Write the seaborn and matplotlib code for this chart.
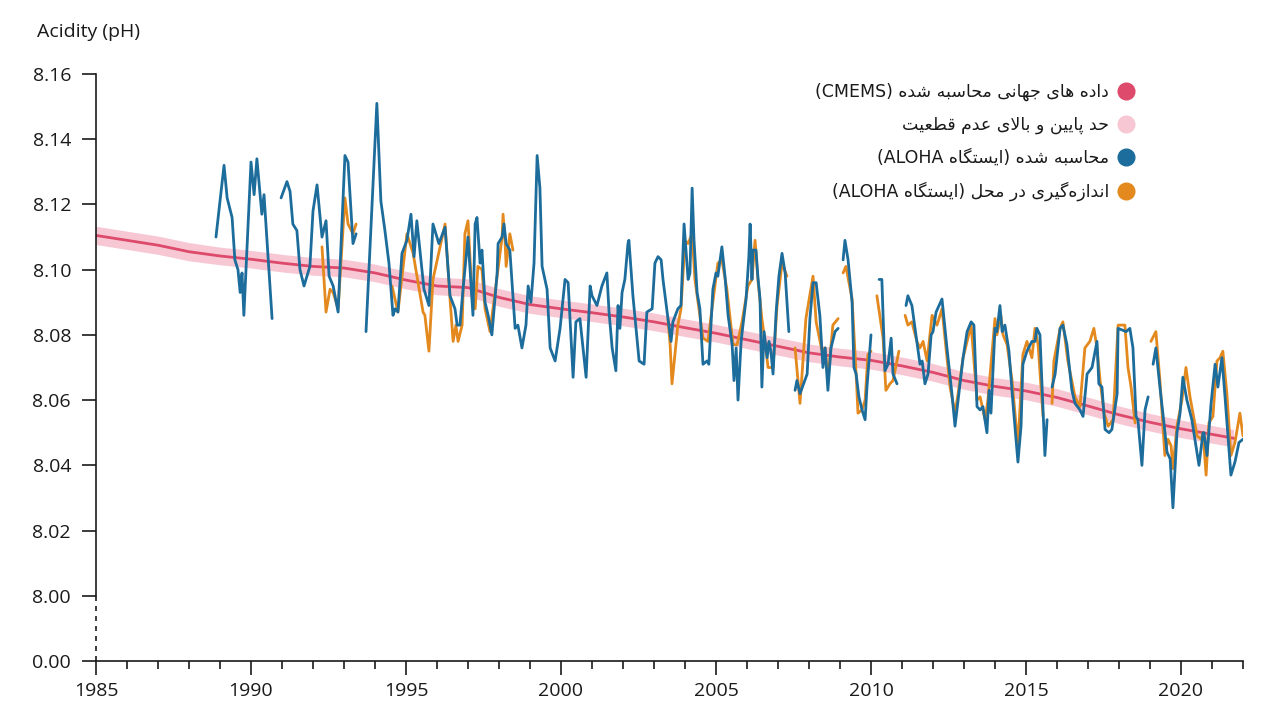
import re
import matplotlib
matplotlib.use("Agg")
import matplotlib.pyplot as plt
from matplotlib.lines import Line2D
import seaborn as sns
import numpy as np
import pandas as pd

nan = np.nan

# CMEMS global calculated pH (yearly) and its uncertainty
cm_year = [1985, 1986, 1987, 1988, 1989, 1990, 1991, 1992, 1993, 1994, 1995, 1996,
           1997, 1998, 1999, 2000, 2001, 2002, 2003, 2004, 2005, 2006, 2007, 2008,
           2009, 2010, 2011, 2012, 2013, 2014, 2015, 2016, 2017, 2018, 2019, 2020,
           2021, 2021.7]
cm_ph = [8.1105, 8.1090, 8.1075, 8.1055, 8.1042, 8.1032, 8.1020, 8.1010, 8.1005, 8.0990,
         8.0968, 8.0950, 8.0945, 8.0915, 8.0893, 8.0880, 8.0868, 8.0855, 8.0840, 8.0822,
         8.0805, 8.0785, 8.0765, 8.0745, 8.0732, 8.0722, 8.0705, 8.0685, 8.0660, 8.0642,
         8.0628, 8.0608, 8.0582, 8.0555, 8.0532, 8.0512, 8.0495, 8.0483]
cm_unc = [0.0028, 0.0028, 0.0028, 0.0028, 0.0027, 0.0027, 0.0027, 0.0027, 0.0027, 0.0027,
          0.0027, 0.0027, 0.0027, 0.0027, 0.0027, 0.0027, 0.0027, 0.0027, 0.0027, 0.0027,
          0.0027, 0.0027, 0.0027, 0.0027, 0.0027, 0.0027, 0.0027, 0.0027, 0.0027, 0.0027,
          0.0027, 0.0027, 0.0027, 0.0027, 0.0027, 0.0027, 0.0027, 0.0027]

# ALOHA station, calculated (nan = gap)
blue_year = [1988.87, 1989.13, 1989.23, 1989.39, 1989.48, 1989.58, 1989.65, 1989.71, 1989.77,
             1990.00, 1990.10, 1990.19, 1990.35, 1990.42, 1990.68, nan,
             1990.97, 1991.16, 1991.26, 1991.35, 1991.48, 1991.58, 1991.71, 1991.90, 1992.00,
             1992.13, 1992.29, 1992.42, 1992.52, 1992.65, 1992.81, 1993.03, 1993.13, 1993.29,
             1993.39, nan,
             1993.71, 1994.06, 1994.19, 1994.32, 1994.45, 1994.58, 1994.65, 1994.74, 1994.87,
             1995.03, 1995.16, 1995.26, 1995.35, 1995.58, 1995.74, 1995.87, 1996.06, 1996.26,
             1996.42, 1996.58, 1996.65, 1996.74, 1996.84, 1997.00, 1997.16, 1997.23, 1997.29,
             1997.39, 1997.45, 1997.55, 1997.65, 1997.77, 1997.94, 1997.97, 1998.10, 1998.16,
             1998.23, 1998.35, 1998.52, 1998.61, 1998.74, 1998.87, 1998.94, 1999.03, 1999.13,
             1999.23, 1999.32, 1999.39, 1999.55, 1999.65, 1999.81, 1999.97, 2000.13, 2000.23,
             2000.39, 2000.48, 2000.61, 2000.81, 2000.94, 2001.00, 2001.16, 2001.32, 2001.48,
             2001.55, 2001.65, 2001.77, 2001.84, 2001.90, 2001.97, 2002.06, 2002.16, 2002.19,
             2002.32, 2002.45, 2002.52, 2002.68, 2002.77, 2002.94, 2003.03, 2003.13, 2003.23,
             2003.29, 2003.45, 2003.55, 2003.61, 2003.77, 2003.87, 2003.97, 2004.10, 2004.16,
             2004.23, 2004.29, 2004.39, 2004.48, 2004.58, 2004.71, 2004.77, 2004.90, 2005.00,
             2005.06, 2005.19, 2005.29, 2005.39, 2005.52, 2005.58, 2005.65, 2005.71, 2005.81,
             2005.87, 2005.97, 2006.06, 2006.10, 2006.16, 2006.19, 2006.29, 2006.35, 2006.42,
             2006.48, 2006.55, 2006.65, 2006.71, 2006.77, 2006.84, 2006.94, 2007.03, 2007.13,
             2007.23, 2007.35, nan,
             2007.55, 2007.61, 2007.71, 2007.94, 2008.03, 2008.13, 2008.23, 2008.35, 2008.45,
             2008.52, 2008.61, 2008.71, 2008.84, 2008.94, nan,
             2009.10, 2009.16, 2009.26, 2009.39, 2009.45, 2009.52, 2009.61, 2009.71, 2009.81,
             2009.87, 2010.00, nan,
             2010.26, 2010.35, 2010.45, 2010.55, 2010.65, 2010.71, 2010.84, nan,
             2011.13, 2011.19, 2011.32, 2011.42, 2011.58, 2011.65, 2011.74, 2011.84, 2011.94,
             2012.00, 2012.10, 2012.29, 2012.45, 2012.61, 2012.71, 2012.81, 2012.97, 2013.10,
             2013.23, 2013.32, 2013.42, 2013.52, 2013.61, 2013.74, 2013.81, 2013.87, 2014.00,
             2014.06, 2014.16, 2014.23, 2014.32, 2014.45, 2014.58, 2014.74, 2014.84, 2014.90,
             2015.03, 2015.19, 2015.29, 2015.35, 2015.45, 2015.61, 2015.68, nan,
             2015.84, 2015.94, 2016.10, 2016.19, 2016.32, 2016.48, 2016.58, 2016.74, 2016.84,
             2016.97, 2017.13, 2017.29, 2017.35, 2017.45, 2017.55, 2017.68, 2017.77, 2017.94,
             2017.97, 2018.23, 2018.35, 2018.45, 2018.55, 2018.61, 2018.74, 2018.84, 2018.94, nan,
             2019.10, 2019.19, 2019.32, 2019.45, 2019.55, 2019.65, 2019.74, 2019.87, 2019.97,
             2020.06, 2020.19, 2020.35, 2020.58, 2020.71, 2020.74, 2020.84, 2020.97, 2021.10,
             2021.19, 2021.32, 2021.42, 2021.61, 2021.74, 2021.87, 2022.00]
blue_ph = [8.110, 8.132, 8.122, 8.116, 8.103, 8.100, 8.093, 8.099, 8.086,
           8.133, 8.123, 8.134, 8.117, 8.123, 8.085, nan,
           8.122, 8.127, 8.124, 8.114, 8.112, 8.100, 8.095, 8.101, 8.118,
           8.126, 8.110, 8.115, 8.098, 8.095, 8.087, 8.135, 8.133, 8.108,
           8.111, nan,
           8.081, 8.151, 8.121, 8.112, 8.102, 8.086, 8.088, 8.087, 8.105,
           8.109, 8.117, 8.104, 8.115, 8.094, 8.089, 8.114, 8.108, 8.113,
           8.092, 8.088, 8.083, 8.083, 8.094, 8.110, 8.086, 8.114, 8.116,
           8.102, 8.106, 8.090, 8.086, 8.080, 8.099, 8.108, 8.110, 8.114,
           8.108, 8.106, 8.082, 8.083, 8.076, 8.083, 8.095, 8.090, 8.102,
           8.135, 8.125, 8.101, 8.094, 8.076, 8.072, 8.082, 8.097, 8.096,
           8.067, 8.084, 8.085, 8.067, 8.095, 8.092, 8.089, 8.095, 8.099,
           8.087, 8.076, 8.069, 8.089, 8.082, 8.093, 8.097, 8.108, 8.109,
           8.092, 8.079, 8.072, 8.071, 8.087, 8.088, 8.102, 8.104, 8.103,
           8.097, 8.085, 8.078, 8.084, 8.088, 8.089, 8.114, 8.097, 8.099,
           8.125, 8.109, 8.093, 8.088, 8.071, 8.072, 8.071, 8.094, 8.099,
           8.098, 8.107, 8.098, 8.086, 8.077, 8.066, 8.076, 8.060, 8.078,
           8.083, 8.091, 8.104, 8.114, 8.097, 8.106, 8.106, 8.098, 8.091,
           8.064, 8.081, 8.073, 8.078, 8.075, 8.068, 8.087, 8.098, 8.105,
           8.099, 8.081, nan,
           8.063, 8.066, 8.062, 8.068, 8.085, 8.096, 8.096, 8.086, 8.070,
           8.076, 8.063, 8.076, 8.081, 8.082, nan,
           8.103, 8.109, 8.103, 8.090, 8.070, 8.068, 8.061, 8.057, 8.054,
           8.064, 8.080, nan,
           8.097, 8.097, 8.069, 8.071, 8.079, 8.068, 8.065, nan,
           8.089, 8.092, 8.089, 8.082, 8.071, 8.072, 8.065, 8.068, 8.080,
           8.081, 8.087, 8.091, 8.076, 8.062, 8.052, 8.060, 8.073, 8.081,
           8.084, 8.083, 8.058, 8.057, 8.058, 8.050, 8.063, 8.056, 8.082,
           8.081, 8.089, 8.081, 8.083, 8.075, 8.059, 8.041, 8.052, 8.071,
           8.075, 8.078, 8.078, 8.082, 8.080, 8.043, 8.054, nan,
           8.064, 8.068, 8.082, 8.083, 8.077, 8.063, 8.059, 8.057, 8.055,
           8.068, 8.070, 8.078, 8.065, 8.064, 8.051, 8.050, 8.051, 8.062,
           8.082, 8.081, 8.082, 8.076, 8.055, 8.054, 8.040, 8.057, 8.061, nan,
           8.071, 8.076, 8.064, 8.053, 8.044, 8.042, 8.027, 8.050, 8.056,
           8.067, 8.060, 8.054, 8.040, 8.050, 8.050, 8.043, 8.059, 8.071,
           8.064, 8.073, 8.061, 8.037, 8.041, 8.047, 8.048]

# ALOHA station, measured in situ (nan = gap)
orange_year = [1992.29, 1992.42, 1992.55, 1992.65, 1992.81, 1993.03, 1993.13, 1993.29, 1993.39, nan,
               1994.55, 1994.74, 1995.03, 1995.23, 1995.55, 1995.61, 1995.74, 1995.87, 1996.26,
               1996.42, 1996.52, 1996.61, 1996.68, 1996.81, 1996.90, 1997.00, 1997.13, 1997.23,
               1997.32, 1997.45, 1997.55, 1997.71, 1997.94, 1998.10, 1998.13, 1998.19, 1998.23,
               1998.35, 1998.45, nan,
               2003.45, 2003.52, 2003.58, 2003.77, 2003.87, 2004.00, 2004.10, 2004.23, 2004.32,
               2004.42, 2004.58, 2004.74, 2004.87, 2005.06, 2005.19, 2005.35, 2005.55, 2005.68,
               2005.84, 2006.03, 2006.16, 2006.26, 2006.35, 2006.48, 2006.58, 2006.68, 2006.84,
               2006.97, 2007.13, 2007.29, nan,
               2007.55, 2007.71, 2007.90, 2008.13, 2008.23, 2008.42, 2008.52, 2008.61, 2008.77,
               2008.94, nan,
               2009.10, 2009.19, 2009.39, 2009.52, 2009.58, 2009.71, 2009.81, 2009.90, 2010.00, nan,
               2010.19, 2010.39, 2010.48, 2010.61, 2010.71, 2010.90, nan,
               2011.10, 2011.19, 2011.32, 2011.48, 2011.58, 2011.68, 2011.81, 2011.97, 2012.13,
               2012.29, 2012.45, 2012.55, 2012.71, 2012.81, 2012.97, 2013.23, 2013.42, 2013.52,
               2013.68, 2013.77, 2014.00, 2014.06, 2014.19, 2014.26, 2014.39, 2014.55, 2014.74,
               2014.90, 2015.03, 2015.19, 2015.29, 2015.39, 2015.55, nan,
               2015.84, 2015.90, 2016.10, 2016.19, 2016.35, 2016.58, 2016.74, 2016.90, 2017.06,
               2017.19, 2017.29, 2017.39, 2017.52, 2017.65, 2017.81, 2017.97, 2018.19, 2018.29,
               2018.39, 2018.52, nan,
               2019.03, 2019.19, 2019.32, 2019.48, 2019.58, 2019.68, 2019.74, 2019.87, 2020.03,
               2020.16, 2020.29, 2020.52, 2020.65, 2020.71, 2020.81, 2020.90, 2021.03, 2021.16,
               2021.26, 2021.35, 2021.48, 2021.61, 2021.74, 2021.90, 2022.00]
orange_ph = [8.107, 8.087, 8.094, 8.093, 8.088, 8.122, 8.114, 8.111, 8.114, nan,
             8.095, 8.087, 8.111, 8.105, 8.087, 8.086, 8.075, 8.097, 8.114,
             8.091, 8.078, 8.083, 8.078, 8.083, 8.111, 8.115, 8.092, 8.088,
             8.101, 8.100, 8.088, 8.081, 8.098, 8.110, 8.117, 8.110, 8.101,
             8.111, 8.106, nan,
             8.085, 8.077, 8.065, 8.083, 8.088, 8.109, 8.108, 8.111, 8.097,
             8.090, 8.079, 8.078, 8.088, 8.102, 8.103, 8.094, 8.077, 8.077,
             8.084, 8.095, 8.097, 8.109, 8.097, 8.085, 8.078, 8.070, 8.070,
             8.089, 8.102, 8.098, nan,
             8.076, 8.059, 8.085, 8.098, 8.084, 8.075, 8.076, 8.066, 8.083,
             8.085, nan,
             8.099, 8.101, 8.091, 8.068, 8.056, 8.057, 8.060, 8.074, 8.075, nan,
             8.092, 8.079, 8.063, 8.065, 8.066, 8.075, nan,
             8.086, 8.083, 8.084, 8.078, 8.076, 8.078, 8.072, 8.086, 8.083,
             8.088, 8.073, 8.064, 8.056, 8.062, 8.073, 8.083, 8.060, 8.061,
             8.054, 8.060, 8.085, 8.080, 8.086, 8.080, 8.077, 8.066, 8.046,
             8.074, 8.078, 8.073, 8.082, 8.077, 8.055, nan,
             8.059, 8.072, 8.082, 8.084, 8.072, 8.061, 8.058, 8.076, 8.078,
             8.082, 8.076, 8.066, 8.056, 8.052, 8.054, 8.083, 8.083, 8.070,
             8.064, 8.053, nan,
             8.078, 8.081, 8.066, 8.043, 8.048, 8.046, 8.039, 8.052, 8.060,
             8.070, 8.061, 8.049, 8.048, 8.050, 8.037, 8.053, 8.055, 8.072,
             8.073, 8.075, 8.062, 8.043, 8.047, 8.056, 8.049]

y_ticks = [7.98, 8.00, 8.02, 8.04, 8.06, 8.08, 8.10, 8.12, 8.14, 8.16]
y_labels = ["0.00", "8.00", "8.02", "8.04", "8.06", "8.08", "8.10", "8.12", "8.14", "8.16"]
x_ticks = [1985, 1990, 1995, 2000, 2005, 2010, 2015, 2020]

legend_labels = [
    "داده های جهانی محاسبه شده (CMEMS)",
    "حد پایین و بالای عدم قطعیت",
    "محاسبه شده (ایستگاه ALOHA)",
    "اندازه\u200cگیری در محل (ایستگاه ALOHA)",
]

RED = "#dd4a6b"
PINK = "#f7c8d4"
BLUE = "#1c6c9c"
ORANGE = "#e3891e"
INK = "#1a1a1a"

# minimal Persian shaping (matplotlib has no bidi/shaping of its own)
FORMS = {  # isolated, final, initial, medial
    "\u0627": ("\uFE8D", "\uFE8E"),
    "\u062F": ("\uFEA9", "\uFEAA"),
    "\u0631": ("\uFEAD", "\uFEAE"),
    "\u0632": ("\uFEAF", "\uFEB0"),
    "\u0648": ("\uFEED", "\uFEEE"),
    "\u0628": ("\uFE8F", "\uFE90", "\uFE91", "\uFE92"),
    "\u067E": ("\uFB56", "\uFB57", "\uFB58", "\uFB59"),
    "\u062A": ("\uFE95", "\uFE96", "\uFE97", "\uFE98"),
    "\u062C": ("\uFE9D", "\uFE9E", "\uFE9F", "\uFEA0"),
    "\u062D": ("\uFEA1", "\uFEA2", "\uFEA3", "\uFEA4"),
    "\u0633": ("\uFEB1", "\uFEB2", "\uFEB3", "\uFEB4"),
    "\u0634": ("\uFEB5", "\uFEB6", "\uFEB7", "\uFEB8"),
    "\u0637": ("\uFEC1", "\uFEC2", "\uFEC3", "\uFEC4"),
    "\u0639": ("\uFEC9", "\uFECA", "\uFECB", "\uFECC"),
    "\u0642": ("\uFED5", "\uFED6", "\uFED7", "\uFED8"),
    "\u06A9": ("\uFB8E", "\uFB8F", "\uFB90", "\uFB91"),
    "\u06AF": ("\uFB92", "\uFB93", "\uFB94", "\uFB95"),
    "\u0644": ("\uFEDD", "\uFEDE", "\uFEDF", "\uFEE0"),
    "\u0645": ("\uFEE1", "\uFEE2", "\uFEE3", "\uFEE4"),
    "\u0646": ("\uFEE5", "\uFEE6", "\uFEE7", "\uFEE8"),
    "\u0647": ("\uFEE9", "\uFEEA", "\uFEEB", "\uFEEC"),
    "\u06CC": ("\uFBFC", "\uFBFD", "\uFBFE", "\uFBFF"),
}


def dual(c):
    return c in FORMS and len(FORMS[c]) == 4


def persian(text):
    chars = list(text.replace("\u064A", "\u06CC").replace("\u0643", "\u06A9"))
    out = []
    i = 0
    while i < len(chars):
        c = chars[i]
        if c not in FORMS:
            out.append(c)
            i += 1
            continue
        joins_prev = i > 0 and dual(chars[i - 1])
        if c == "\u0644" and i + 1 < len(chars) and chars[i + 1] == "\u0627":
            out.append("\uFEFC" if joins_prev else "\uFEFB")
            i += 2
            continue
        joins_next = dual(c) and i + 1 < len(chars) and chars[i + 1] in FORMS
        f = FORMS[c]
        if joins_prev and joins_next:
            out.append(f[3])
        elif joins_prev:
            out.append(f[1])
        elif joins_next:
            out.append(f[2])
        else:
            out.append(f[0])
        i += 1
    s = "".join(out).replace("\u200c", "")
    s = s[::-1].translate(str.maketrans("()", ")("))
    return re.sub(r"[A-Za-z0-9]+", lambda m: m.group()[::-1], s)


def segments(years, vals):
    df = pd.DataFrame({"year": years, "ph": vals})
    df["seg"] = df["ph"].isna().cumsum()
    return df.dropna()


sns.set_style("ticks")
plt.rcParams["font.family"] = ["Open Sans", "DejaVu Sans"]

fig, ax = plt.subplots(figsize=(12.8, 7.2), dpi=100)
fig.subplots_adjust(left=96 / 1280, right=1243 / 1280, top=1 - 74 / 720, bottom=1 - 661 / 720)

cm = pd.DataFrame({"year": cm_year, "ph": cm_ph, "unc": cm_unc})
ax.fill_between(cm["year"], cm["ph"] - cm["unc"], cm["ph"] + cm["unc"], color=PINK, lw=0, zorder=1)
sns.lineplot(data=cm, x="year", y="ph", color=RED, lw=2, ax=ax, zorder=2)

sns.lineplot(data=segments(orange_year, orange_ph), x="year", y="ph", units="seg",
             estimator=None, sort=False, color=ORANGE, lw=2, ax=ax, zorder=3)
sns.lineplot(data=segments(blue_year, blue_ph), x="year", y="ph", units="seg",
             estimator=None, sort=False, color=BLUE, lw=2, ax=ax, zorder=4)

ax.set_xlim(1985, 2022)
ax.set_ylim(7.98, 8.16)
ax.set_yticks(y_ticks)
ax.set_yticklabels(y_labels)
ax.set_xticks(x_ticks)
ax.set_xticks(range(1985, 2023), minor=True)
ax.set_xlabel("")
ax.set_ylabel("")

for side in ["top", "right"]:
    ax.spines[side].set_visible(False)
ax.spines["left"].set_bounds(8.00, 8.16)
ax.spines["left"].set_color(INK)
ax.spines["bottom"].set_color(INK)
ax.spines["left"].set_linewidth(1.2)
ax.spines["bottom"].set_linewidth(1.2)
# broken axis between 0 and 8
ax.plot([1985, 1985], [7.98, 8.00], color=INK, lw=1.2, ls=(0, (3, 3)), clip_on=False)

ax.tick_params(axis="y", length=10, width=1.2, color=INK, labelsize=14, labelcolor=INK, pad=8)
ax.tick_params(axis="x", which="major", length=10, width=1.2, color=INK, labelsize=14,
               labelcolor=INK, pad=5)
ax.tick_params(axis="x", which="minor", length=6, width=1.2, color=INK)

fig.text(37 / 1280, 1 - 32 / 720, "Acidity (pH)", fontsize=14, color=INK, va="center", ha="left")

handles = [Line2D([], [], ls="", marker="o", markersize=12, color=c) for c in [RED, PINK, BLUE, ORANGE]]
ax.legend(handles, [persian(t) for t in legend_labels], loc="upper right",
          bbox_to_anchor=(1140 / 1280, 1 - 76 / 720), bbox_transform=fig.transFigure,
          markerfirst=False, frameon=False, handlelength=0.8, handletextpad=0.6,
          labelspacing=0.85, borderaxespad=0, prop={"family": "DejaVu Sans", "size": 12.5},
          labelcolor=INK)

fig.savefig("out.png", dpi=100)
